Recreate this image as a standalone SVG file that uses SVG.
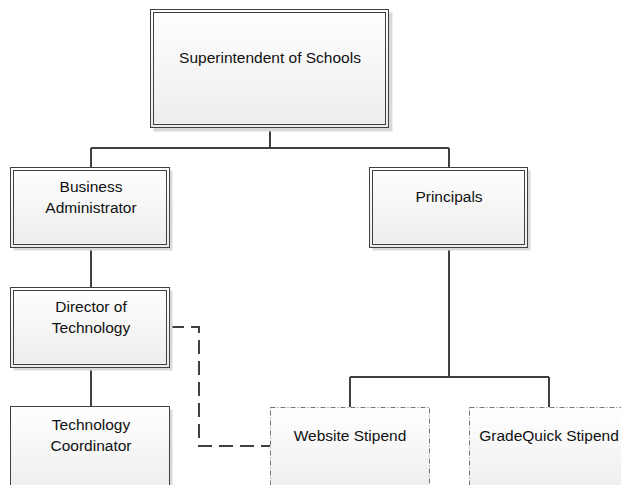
<svg xmlns="http://www.w3.org/2000/svg" width="621" height="485" viewBox="0 0 621 485">
<defs>
<linearGradient id="g" x1="0" y1="0" x2="0" y2="1">
<stop offset="0" stop-color="#ffffff"/>
<stop offset="1" stop-color="#ececec"/>
</linearGradient>
</defs>
<style>
.sh{fill:#d9d9d9;stroke:none}
.box{fill:url(#g);stroke:#404040;stroke-width:1}
.inner{fill:none;stroke:#404040;stroke-width:1}
.dd{fill:url(#g);stroke:#555;stroke-width:0.8;stroke-dasharray:5 2 1 2}
.t{font-family:"Liberation Sans",Arial,sans-serif;font-size:15.5px;fill:#111;text-anchor:middle}
.c{fill:none;stroke:#404040;stroke-width:2}
.d{fill:none;stroke:#404040;stroke-width:2;stroke-dasharray:14 7}
</style>
<g id="connectors">
<path class="c" d="M270 128V148M91 148H449M91 148V167M449 148V168M91 248V287M91 367V406M449 248V377M350 377H549M350 377V407M549 377V407"/>
<path class="d" d="M170 327H199V446H270"/>
</g>
<g id="superintendent">
<rect class="sh" x="153.5" y="12.5" width="239" height="119"/>
<rect class="box" x="150.5" y="9.5" width="238" height="118"/>
<rect class="inner" x="153.5" y="12.5" width="232" height="112"/>
<text class="t" x="270" y="63">Superintendent of Schools</text>
</g>
<g id="business">
<rect class="sh" x="13.5" y="170.5" width="159" height="80"/>
<rect class="box" x="10.5" y="167.5" width="159" height="80"/>
<rect class="inner" x="13.5" y="170.5" width="153" height="74"/>
<text class="t" x="91" y="192">Business</text>
<text class="t" x="91" y="213">Administrator</text>
</g>
<g id="principals">
<rect class="sh" x="372.5" y="170.5" width="158" height="80"/>
<rect class="box" x="369.5" y="167.5" width="158" height="80"/>
<rect class="inner" x="372.5" y="170.5" width="152" height="74"/>
<text class="t" x="449" y="202">Principals</text>
</g>
<g id="director">
<rect class="sh" x="13.5" y="290.5" width="159" height="80"/>
<rect class="box" x="10.5" y="287.5" width="159" height="80"/>
<rect class="inner" x="13.5" y="290.5" width="153" height="74"/>
<text class="t" x="91" y="312">Director of</text>
<text class="t" x="91" y="333">Technology</text>
</g>
<g id="coordinator">
<rect class="sh" x="13.5" y="409.5" width="159" height="80"/>
<rect class="box" x="10.5" y="406.5" width="159" height="90"/>
<text class="t" x="91" y="430">Technology</text>
<text class="t" x="91" y="451">Coordinator</text>
</g>
<g id="website">
<rect class="dd" x="270.5" y="407.5" width="159" height="90"/>
<text class="t" x="350" y="441">Website Stipend</text>
</g>
<g id="gradequick">
<rect class="dd" x="469.5" y="407.5" width="159" height="90"/>
<text class="t" x="549" y="441">GradeQuick Stipend</text>
</g>
</svg>
